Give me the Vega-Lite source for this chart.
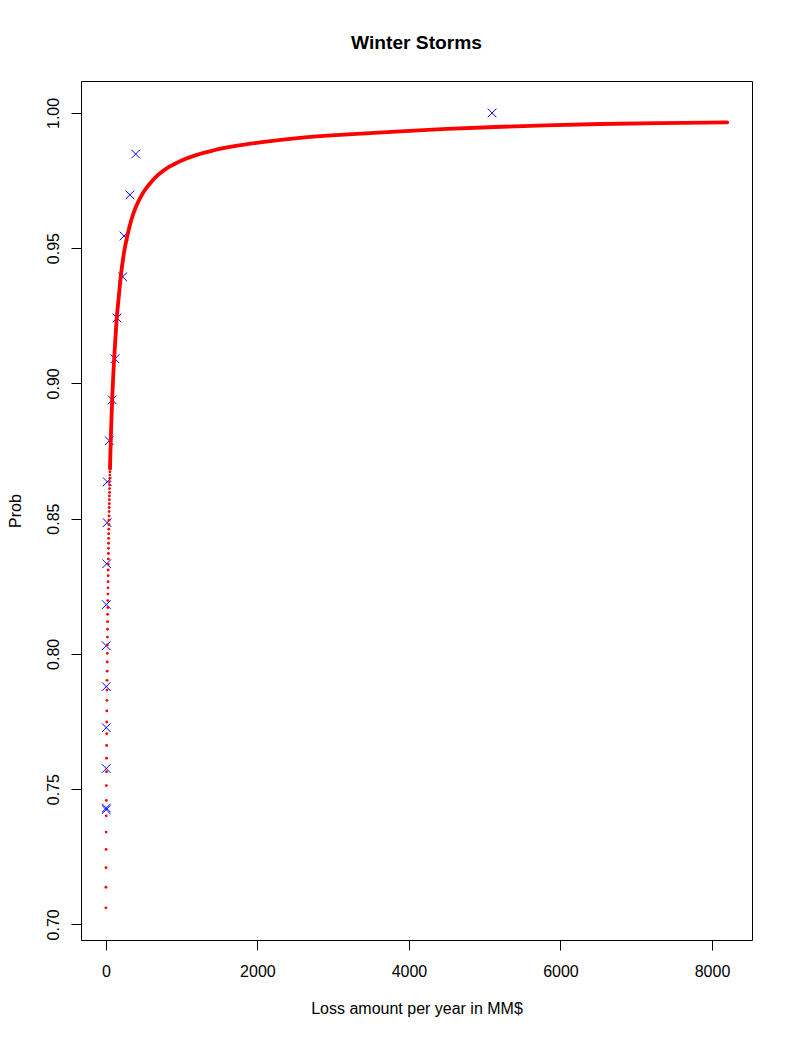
{
  "$schema": "https://vega.github.io/schema/vega-lite/v6.json",
  "width": 671,
  "height": 859,
  "autosize": {"type": "none"},
  "padding": {"left": 81, "top": 81, "right": 41, "bottom": 101},
  "background": "white",
  "title": {
    "text": "Winter Storms",
    "font": "Liberation Sans",
    "fontSize": 19.2,
    "fontWeight": "bold",
    "color": "black",
    "anchor": "middle",
    "frame": "group",
    "baseline": "alphabetic",
    "offset": 13.3
  },
  "config": {
    "view": {"stroke": "black", "strokeWidth": 1},
    "axis": {
      "domain": false,
      "grid": false,
      "tickSize": 10,
      "tickColor": "black",
      "tickWidth": 1,
      "labelFont": "Liberation Sans",
      "labelFontSize": 16,
      "labelColor": "black",
      "labelOverlap": false,
      "labelFlush": false,
      "titleFont": "Liberation Sans",
      "titleFontSize": 16,
      "titleFontWeight": "normal",
      "titleColor": "black"
    }
  },
  "datasets": {
    "empirical": [
      {"loss": 4, "prob": 0.7424},
      {"loss": 6, "prob": 0.7430},
      {"loss": 5, "prob": 0.7576},
      {"loss": 5, "prob": 0.7727},
      {"loss": 5, "prob": 0.7879},
      {"loss": 5, "prob": 0.8030},
      {"loss": 6, "prob": 0.8182},
      {"loss": 11, "prob": 0.8333},
      {"loss": 17, "prob": 0.8485},
      {"loss": 19, "prob": 0.8636},
      {"loss": 45, "prob": 0.8788},
      {"loss": 84, "prob": 0.8939},
      {"loss": 120, "prob": 0.9091},
      {"loss": 147, "prob": 0.9242},
      {"loss": 222, "prob": 0.9394},
      {"loss": 240, "prob": 0.9545},
      {"loss": 318, "prob": 0.9697},
      {"loss": 393, "prob": 0.9848},
      {"loss": 5098, "prob": 1.0}
    ],
    "fitdots": [
      {"loss": 0, "prob": 0.7061}, {"loss": 1, "prob": 0.7137}, {"loss": 2, "prob": 0.7209},
      {"loss": 3, "prob": 0.7277}, {"loss": 4, "prob": 0.7341}, {"loss": 5, "prob": 0.7401},
      {"loss": 6, "prob": 0.7458}, {"loss": 7, "prob": 0.7513}, {"loss": 8, "prob": 0.7564},
      {"loss": 9, "prob": 0.7614}, {"loss": 10, "prob": 0.7661}, {"loss": 11, "prob": 0.7705},
      {"loss": 12, "prob": 0.7748}, {"loss": 13, "prob": 0.7789}, {"loss": 14, "prob": 0.7828},
      {"loss": 15, "prob": 0.7866}, {"loss": 16, "prob": 0.7902}, {"loss": 17, "prob": 0.7936},
      {"loss": 18, "prob": 0.7970}, {"loss": 19, "prob": 0.8002}, {"loss": 20, "prob": 0.8033},
      {"loss": 21, "prob": 0.8062}, {"loss": 22, "prob": 0.8091}, {"loss": 23, "prob": 0.8119},
      {"loss": 24, "prob": 0.8146}, {"loss": 25, "prob": 0.8171}, {"loss": 26, "prob": 0.8197},
      {"loss": 27, "prob": 0.8221}, {"loss": 28, "prob": 0.8244}, {"loss": 29, "prob": 0.8267},
      {"loss": 30, "prob": 0.8289}, {"loss": 31, "prob": 0.8310}, {"loss": 32, "prob": 0.8331},
      {"loss": 33, "prob": 0.8351}, {"loss": 34, "prob": 0.8371}, {"loss": 35, "prob": 0.8390},
      {"loss": 36, "prob": 0.8409}, {"loss": 37, "prob": 0.8427}, {"loss": 38, "prob": 0.8444},
      {"loss": 39, "prob": 0.8461}, {"loss": 40, "prob": 0.8478}, {"loss": 41, "prob": 0.8494},
      {"loss": 42, "prob": 0.8510}, {"loss": 43, "prob": 0.8526}, {"loss": 44, "prob": 0.8541},
      {"loss": 45, "prob": 0.8555}, {"loss": 46, "prob": 0.8570}, {"loss": 47, "prob": 0.8584},
      {"loss": 48, "prob": 0.8597}, {"loss": 49, "prob": 0.8611}, {"loss": 50, "prob": 0.8624},
      {"loss": 51, "prob": 0.8637}, {"loss": 52, "prob": 0.8649}, {"loss": 53, "prob": 0.8661},
      {"loss": 54, "prob": 0.8673}, {"loss": 55, "prob": 0.8685}, {"loss": 56, "prob": 0.8697},
      {"loss": 57, "prob": 0.8708}, {"loss": 58, "prob": 0.8719}, {"loss": 59, "prob": 0.8730},
      {"loss": 60, "prob": 0.8740}
    ],
    "fitline": [
      {"loss": 55, "prob": 0.8685},
      {"loss": 60, "prob": 0.8740},
      {"loss": 70, "prob": 0.8836},
      {"loss": 85, "prob": 0.8951},
      {"loss": 100, "prob": 0.9042},
      {"loss": 120, "prob": 0.9138},
      {"loss": 142, "prob": 0.9235},
      {"loss": 170, "prob": 0.9318},
      {"loss": 199, "prob": 0.9400},
      {"loss": 240, "prob": 0.9484},
      {"loss": 283, "prob": 0.9545},
      {"loss": 335, "prob": 0.9603},
      {"loss": 393, "prob": 0.9650},
      {"loss": 450, "prob": 0.9684},
      {"loss": 516, "prob": 0.9715},
      {"loss": 580, "prob": 0.9738},
      {"loss": 648, "prob": 0.9760},
      {"loss": 720, "prob": 0.9778},
      {"loss": 803, "prob": 0.9795},
      {"loss": 900, "prob": 0.9810},
      {"loss": 1000, "prob": 0.9824},
      {"loss": 1199, "prob": 0.9845},
      {"loss": 1414, "prob": 0.9861},
      {"loss": 1678, "prob": 0.9876},
      {"loss": 2035, "prob": 0.9891},
      {"loss": 2563, "prob": 0.9908},
      {"loss": 3200, "prob": 0.9921},
      {"loss": 3883, "prob": 0.9932},
      {"loss": 4500, "prob": 0.9941},
      {"loss": 5138, "prob": 0.9948},
      {"loss": 5800, "prob": 0.9954},
      {"loss": 6525, "prob": 0.9959},
      {"loss": 7300, "prob": 0.9962},
      {"loss": 8200, "prob": 0.9965}
    ]
  },
  "encoding": {
    "x": {
      "field": "loss",
      "type": "quantitative",
      "scale": {"domain": [-328, 8528], "nice": false, "zero": false},
      "axis": {
        "values": [0, 2000, 4000, 6000, 8000],
        "format": "d",
        "labelBaseline": "top",
        "labelAlign": "center",
        "labelPadding": 13.4,
        "title": "Loss amount per year in MM$",
        "titleX": 335.5,
        "titleY": 73,
        "titleAlign": "center",
        "titleBaseline": "alphabetic",
        "titleAngle": 0
      }
    },
    "y": {
      "field": "prob",
      "type": "quantitative",
      "scale": {"domain": [0.6942, 1.0118], "nice": false, "zero": false},
      "axis": {
        "values": [0.7, 0.75, 0.8, 0.85, 0.9, 0.95, 1.0],
        "format": ".2f",
        "labelAngle": 270,
        "labelAlign": "center",
        "labelBaseline": "bottom",
        "labelPadding": 10,
        "title": "Prob",
        "titleAngle": 270,
        "titleX": -60.5,
        "titleY": 429.5,
        "titleAlign": "center",
        "titleBaseline": "alphabetic"
      }
    }
  },
  "layer": [
    {
      "data": {"name": "empirical"},
      "mark": {
        "type": "point",
        "shape": "M-1,-1L1,1M1,-1L-1,1",
        "size": 75,
        "filled": false,
        "stroke": "#0000FF",
        "strokeWidth": 1,
        "opacity": 1
      }
    },
    {
      "data": {"name": "fitline"},
      "mark": {"type": "line", "color": "#FF0000", "strokeWidth": 3.8, "strokeCap": "round", "strokeJoin": "round", "interpolate": "monotone"}
    },
    {
      "data": {"name": "fitdots"},
      "mark": {"type": "circle", "size": 8, "color": "#FF0000", "opacity": 1}
    }
  ]
}
